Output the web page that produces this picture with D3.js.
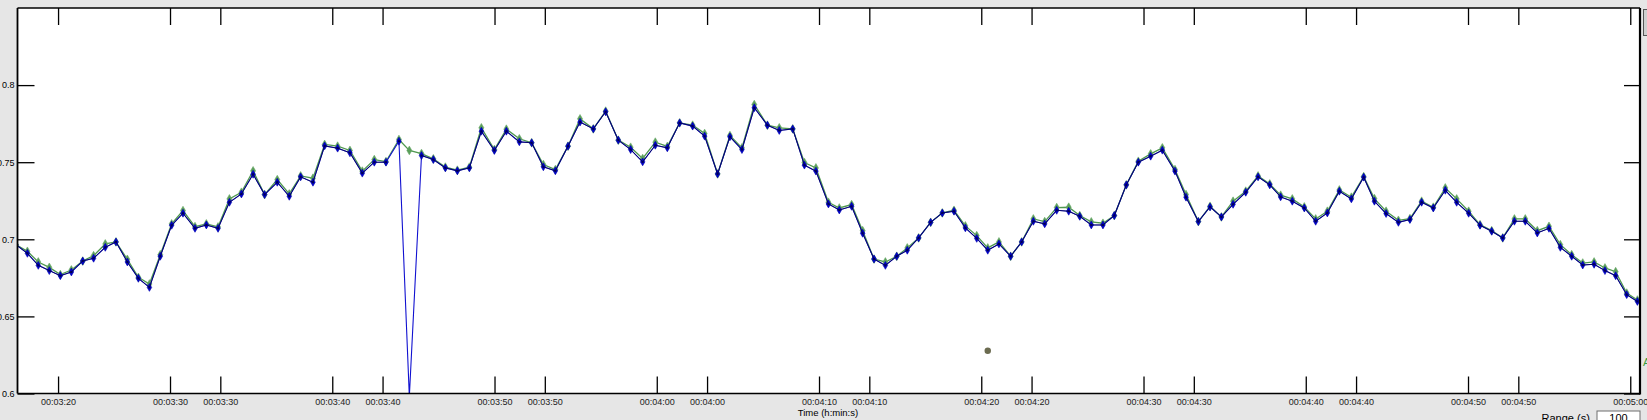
<!DOCTYPE html>
<html>
<head>
<meta charset="utf-8">
<script src="https://cdn.jsdelivr.net/npm/d3@7"></script>
<style>
  html, body { margin: 0; padding: 0; background: #e6e6e6; }
  svg { display: block; font-family: "Liberation Sans", Arial, sans-serif; }
</style>
</head>
<body>
<svg id="chart" width="1647" height="420"></svg>
<script>
// ---- data (seconds from window start, RR interval values in s) ----
const times = [-0.10, 0.61, 1.28, 1.96, 2.64, 3.32, 4.02, 4.69, 5.41, 6.07, 6.77, 7.45, 8.13, 8.80, 9.50,
  10.20, 10.94, 11.64, 12.36, 13.06, 13.80, 14.52, 15.23, 16.01, 16.75, 17.45, 18.21, 18.93, 19.73, 20.49,
  21.25, 21.99, 22.71, 23.51, 24.15, 24.90, 25.63, 26.37, 27.11, 27.85, 28.59, 29.39, 30.13, 30.93, 31.69,
  32.41, 33.15, 33.93, 34.67, 35.49, 36.25, 37.03, 37.79, 38.53, 39.31, 40.05, 40.81, 41.61, 42.35, 43.15,
  43.91, 44.65, 45.41, 46.22, 46.95, 47.78, 48.50, 49.21, 49.98, 50.65, 51.41, 52.09, 52.79, 53.49, 54.19,
  54.84, 55.54, 56.28, 57.00, 57.72, 58.42, 59.12, 59.80, 60.49, 61.21, 61.89, 62.61, 63.31, 64.05, 64.79,
  65.47, 66.18, 66.90, 67.60, 68.34, 69.08, 69.84, 70.56, 71.34, 72.02, 72.78, 73.50, 74.20, 74.92, 75.70,
  76.46, 77.18, 77.85, 78.57, 79.31, 80.01, 80.73, 81.47, 82.21, 82.97, 83.63, 84.35, 85.11, 85.82, 86.54,
  87.26, 88.00, 88.70, 89.44, 90.14, 90.86, 91.54, 92.26, 92.93, 93.67, 94.39, 95.09, 95.79, 96.47, 97.17,
  97.84, 98.50, 99.18, 99.84];

const rrBlue = [0.6965, 0.6909, 0.6831, 0.6797, 0.6764, 0.6788, 0.6859, 0.6877, 0.6948, 0.6983, 0.6853, 0.6747, 0.6688, 0.6890, 0.7091,
  0.7169, 0.7071, 0.7093, 0.7071, 0.7240, 0.7294, 0.7422, 0.7290, 0.7370, 0.7279, 0.7405, 0.7370, 0.7606, 0.7591, 0.7561,
  0.7429, 0.7500, 0.7500, 0.7636, 0.5980, 0.7543, 0.7517, 0.7463, 0.7444, 0.7463, 0.7701, 0.7576, 0.7701, 0.7632, 0.7626,
  0.7470, 0.7444, 0.7604, 0.7760, 0.7716, 0.7827, 0.7643, 0.7582, 0.7502, 0.7610, 0.7593, 0.7755, 0.7734, 0.7669, 0.7424,
  0.7665, 0.7582, 0.7853, 0.7740, 0.7706, 0.7716, 0.7481, 0.7442, 0.7229, 0.7190, 0.7214, 0.7039, 0.6872, 0.6831, 0.6890,
  0.6929, 0.7009, 0.7110, 0.7171, 0.7182, 0.7074, 0.7006, 0.6929, 0.6970, 0.6890, 0.6983, 0.7117, 0.7100, 0.7188, 0.7182,
  0.7149, 0.7093, 0.7093, 0.7154, 0.7353, 0.7500, 0.7539, 0.7578, 0.7442, 0.7273, 0.7115, 0.7210, 0.7145, 0.7227, 0.7305,
  0.7405, 0.7353, 0.7275, 0.7247, 0.7203, 0.7117, 0.7171, 0.7312, 0.7262, 0.7403, 0.7247, 0.7167, 0.7110, 0.7128, 0.7240,
  0.7203, 0.7318, 0.7240, 0.7169, 0.7091, 0.7052, 0.7009, 0.7117, 0.7117, 0.7041, 0.7071, 0.6948, 0.6890, 0.6833, 0.6838,
  0.6797, 0.6764, 0.6641, 0.6597];

const rrGreen = [0.6965, 0.6922, 0.6853, 0.6818, 0.6771, 0.6801, 0.6859, 0.6894, 0.6970, 0.6983, 0.6870, 0.6753, 0.6710, 0.6900, 0.7100,
  0.7186, 0.7082, 0.7100, 0.7080, 0.7262, 0.7305, 0.7444, 0.7290, 0.7387, 0.7294, 0.7411, 0.7396, 0.7615, 0.7604, 0.7576,
  0.7442, 0.7517, 0.7504, 0.7647, 0.7576, 0.7556, 0.7522, 0.7468, 0.7448, 0.7468, 0.7723, 0.7582, 0.7714, 0.7652, 0.7626,
  0.7485, 0.7452, 0.7604, 0.7781, 0.7716, 0.7831, 0.7643, 0.7597, 0.7524, 0.7630, 0.7602, 0.7755, 0.7740, 0.7686, 0.7424,
  0.7673, 0.7593, 0.7874, 0.7740, 0.7723, 0.7716, 0.7498, 0.7463, 0.7240, 0.7203, 0.7225, 0.7056, 0.6872, 0.6853, 0.6890,
  0.6944, 0.7009, 0.7110, 0.7171, 0.7188, 0.7087, 0.7024, 0.6944, 0.6983, 0.6890, 0.6983, 0.7132, 0.7115, 0.7206, 0.7208,
  0.7154, 0.7113, 0.7104, 0.7154, 0.7353, 0.7506, 0.7554, 0.7593, 0.7452, 0.7290, 0.7115, 0.7214, 0.7145, 0.7247, 0.7312,
  0.7411, 0.7359, 0.7286, 0.7262, 0.7210, 0.7132, 0.7182, 0.7320, 0.7273, 0.7407, 0.7264, 0.7182, 0.7123, 0.7134, 0.7247,
  0.7208, 0.7333, 0.7262, 0.7182, 0.7095, 0.7056, 0.7009, 0.7132, 0.7132, 0.7056, 0.7084, 0.6965, 0.6900, 0.6846, 0.6853,
  0.6814, 0.6790, 0.6651, 0.6606];

const artifactIndex = [34];          // blue beat flagged as artifact (spike)
const eventTimes = [59.8];            // isolated event marker
const eventValues = [0.6277];

const xTickValues = [2.5, 9.4, 12.5, 19.4, 22.5, 29.4, 32.5, 39.4, 42.5, 49.4, 52.5, 59.4, 62.5, 69.4, 72.5,
  79.4, 82.5, 89.4, 92.5, 99.4];
const xTickLabels = ["00:03:20", "00:03:30", "00:03:30", "00:03:40", "00:03:40", "00:03:50", "00:03:50",
  "00:04:00", "00:04:00", "00:04:10", "00:04:10", "00:04:20", "00:04:20", "00:04:30", "00:04:30",
  "00:04:40", "00:04:40", "00:04:50", "00:04:50", "00:05:00"];
const yTickValues = [0.6, 0.65, 0.7, 0.75, 0.8];
const xAxisTitle = "Time (h:min:s)";
const rangeLabel = "Range (s)";
const rangeValue = "100";

// ---- layout ----
const svg = d3.select("#chart");
const L = 17.5, R = 1640, T = 8, B = 393.5;

const x = d3.scaleLinear().domain([0, 100]).range([L, R]);
const y = d3.scaleLinear().domain([0.6, 0.85]).range([B, T]);

svg.append("rect").attr("x", 0).attr("y", 0).attr("width", 1647).attr("height", 420).attr("fill", "#e6e6e6");
svg.append("rect").attr("x", L).attr("y", T).attr("width", R - L).attr("height", B - T).attr("fill", "#ffffff");

svg.append("defs").append("clipPath").attr("id", "plotclip")
  .append("rect").attr("x", L).attr("y", T).attr("width", R - L).attr("height", B - T);

const blueData = times.map((t, i) => ({ t, v: rrBlue[i], i }));
const greenData = times.map((t, i) => ({ t, v: rrGreen[i], i }));

const plot = svg.append("g").attr("clip-path", "url(#plotclip)");

const line = d3.line().x(d => x(d.t)).y(d => y(d.v));

// green series
plot.append("path").datum(greenData).attr("d", line)
  .attr("fill", "none").attr("stroke", "#4f984f").attr("stroke-width", 1.3);
plot.selectAll(".gm").data(greenData).enter().append("path")
  .attr("transform", d => `translate(${x(d.t)},${y(d.v)})`)
  .attr("d", d3.symbol().type(d3.symbolDiamond).size(22))
  .attr("fill", "#5a9e5a").attr("stroke", "#6aa86a").attr("stroke-width", 0.6);

// blue series (raw, including the artifact)
plot.append("path").datum(blueData).attr("d", line)
  .attr("fill", "none").attr("stroke", "#1010d0").attr("stroke-width", 1.1);
plot.selectAll(".bm").data(blueData).enter().append("path")
  .attr("transform", d => `translate(${x(d.t)},${y(d.v)})`)
  .attr("d", d3.symbol().type(d3.symbolDiamond).size(18))
  .attr("fill", "#0000cc").attr("stroke", "#0000b0").attr("stroke-width", 0.6);

// dark overlay through accepted beats
const darkLine = d3.line().defined(d => !artifactIndex.includes(d.i)
    && !artifactIndex.includes(d.i + 1))
  .x(d => x(d.t)).y(d => y(d.v));
plot.append("path").datum(blueData).attr("d", darkLine)
  .attr("fill", "none").attr("stroke", "#000040").attr("stroke-width", 0.9).attr("opacity", 0.8);
plot.selectAll(".dm").data(blueData.filter(d => !artifactIndex.includes(d.i))).enter().append("rect")
  .attr("x", d => x(d.t) - 1).attr("y", d => y(d.v) - 1).attr("width", 2).attr("height", 2)
  .attr("fill", "#000050");

// event marker
plot.selectAll(".ev").data(eventTimes).enter().append("circle")
  .attr("cx", (d) => x(d)).attr("cy", (d, i) => y(eventValues[i])).attr("r", 3.2)
  .attr("fill", "#6b6b50");

// ---- axes ----
const axStyle = g => {
  g.select(".domain").remove();
  g.selectAll(".tick line").attr("stroke", "#000").attr("stroke-width", 1.3);
  g.selectAll(".tick text").attr("fill", "#222").style("font-size", "9px")
    .style("font-family", "'Liberation Sans', Arial, sans-serif");
};

svg.append("g").attr("transform", `translate(0,${B})`)
  .call(d3.axisBottom(x).tickValues(xTickValues).tickFormat((d, i) => xTickLabels[i])
    .tickSizeInner(-17).tickSizeOuter(0).tickPadding(5))
  .call(axStyle);

svg.append("g").attr("transform", `translate(0,${T})`)
  .call(d3.axisTop(x).tickValues(xTickValues).tickFormat("")
    .tickSizeInner(-17).tickSizeOuter(0))
  .call(axStyle);

svg.append("g").attr("transform", `translate(${L},0)`)
  .call(d3.axisLeft(y).tickValues(yTickValues).tickFormat(d => String(d))
    .tickSizeInner(-17).tickSizeOuter(0).tickPadding(3))
  .call(axStyle)
  .call(g => g.selectAll(".tick text").attr("fill", "#000"));

svg.append("g").attr("transform", `translate(${R},0)`)
  .call(d3.axisRight(y).tickValues(yTickValues).tickFormat("")
    .tickSizeInner(-16).tickSizeOuter(0))
  .call(axStyle);

// frame
svg.append("line").attr("x1", L).attr("x2", R).attr("y1", T).attr("y2", T).attr("stroke", "#000").attr("stroke-width", 1.3);
svg.append("line").attr("x1", L).attr("x2", R).attr("y1", B).attr("y2", B).attr("stroke", "#000").attr("stroke-width", 1.5);
svg.append("line").attr("x1", L).attr("x2", L).attr("y1", T).attr("y2", B).attr("stroke", "#000").attr("stroke-width", 1.8);
svg.append("line").attr("x1", R).attr("x2", R).attr("y1", T).attr("y2", B + 1).attr("stroke", "#000").attr("stroke-width", 2.2);

// axis title
svg.append("text").attr("x", 828).attr("y", 415.5).attr("text-anchor", "middle")
  .style("font-size", "9.5px").attr("fill", "#000").text(xAxisTitle);

// range control (partially visible)
svg.append("text").attr("x", 1541.5).attr("y", 421.5).style("font-size", "11px").attr("fill", "#000").text(rangeLabel);
svg.append("rect").attr("x", 1597).attr("y", 411).attr("width", 43).attr("height", 20)
  .attr("fill", "#fff").attr("stroke", "#6e6e6e").attr("stroke-width", 1);
svg.append("text").attr("x", 1618.5).attr("y", 422).attr("text-anchor", "middle")
  .style("font-size", "11px").attr("fill", "#000").text(rangeValue);

// right-edge UI fragments
svg.append("rect").attr("x", 1643.5).attr("y", 9.5).attr("width", 5).attr("height", 26)
  .attr("fill", "#cfcfcf").attr("stroke", "#555").attr("stroke-width", 1);
svg.append("text").attr("x", 1643).attr("y", 366).style("font-size", "11px").attr("fill", "#3a9a3a").text("A");
</script>
</body>
</html>
